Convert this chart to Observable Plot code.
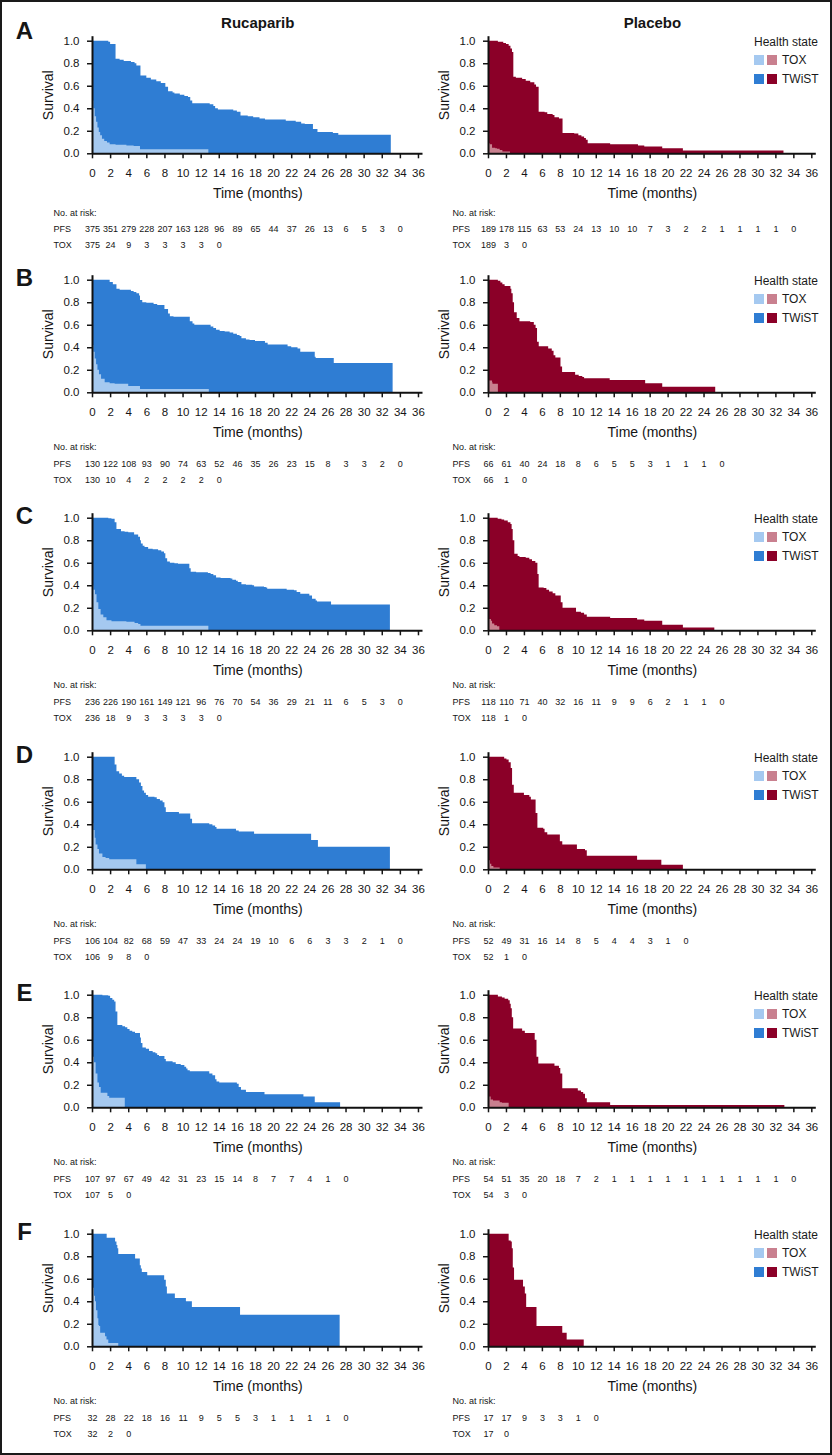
<!DOCTYPE html>
<html><head><meta charset="utf-8">
<script src="https://cdn.jsdelivr.net/npm/d3@7"></script>
<script src="https://cdn.jsdelivr.net/npm/@observablehq/plot@0.6"></script>
<style>
body{margin:0;background:#fff;}
#fig{position:relative;width:832px;height:1455px;overflow:hidden;font-family:"Liberation Sans",Arial,Helvetica,sans-serif;background:#fff;}
#frame{position:absolute;left:0;top:0;width:832px;height:1455px;box-sizing:border-box;border:2px solid #1a1a1a;pointer-events:none;}
.pn{position:absolute;}
.leg{position:absolute;font-size:12px;line-height:14px;color:#1a1a1a;white-space:nowrap;}
.sw{position:absolute;width:10px;height:10px;}
</style></head><body><div id="fig"><div id="frame"></div></div>
<script>
// ---------- Data: step curves [months, survival] ----------
const rucA_pfs = [[0,1],[1.8,0.99],[2.0,0.97],[2.6,0.84],[3.05,0.83],[3.5,0.82],[4.3,0.81],[4.7,0.80],[4.9,0.78],[5.35,0.69],[6.0,0.67],[6.5,0.655],[7.1,0.64],[7.6,0.625],[8.1,0.59],[8.4,0.55],[8.9,0.54],[9.1,0.53],[9.7,0.52],[10.2,0.51],[10.6,0.50],[10.85,0.47],[11.07,0.445],[13.0,0.435],[13.4,0.42],[13.6,0.40],[13.9,0.39],[15.6,0.38],[16.0,0.37],[16.4,0.335],[17.2,0.33],[17.8,0.32],[18.5,0.31],[19.1,0.30],[21.4,0.29],[22.5,0.28],[23.1,0.265],[23.5,0.26],[24.4,0.215],[24.9,0.19],[26.6,0.18],[27.2,0.165],[33.0,0.165]];
const rucA_tox = [[0,0.47],[0.15,0.40],[0.3,0.33],[0.45,0.28],[0.6,0.23],[0.75,0.19],[0.9,0.16],[1.1,0.13],[1.35,0.11],[1.65,0.095],[1.95,0.08],[2.6,0.075],[3.8,0.07],[4.6,0.065],[5.3,0.035],[12.85,0.035]];
const placA_pfs = [[0,1],[1.1,0.99],[1.7,0.98],[2.0,0.97],[2.3,0.955],[2.5,0.93],[2.67,0.90],[2.82,0.68],[3.1,0.67],[3.8,0.66],[4.2,0.645],[4.7,0.63],[5.16,0.61],[5.35,0.59],[5.64,0.37],[6.3,0.365],[6.6,0.35],[7.2,0.34],[7.4,0.32],[7.9,0.31],[8.3,0.18],[9.6,0.175],[10.06,0.16],[10.4,0.15],[10.7,0.135],[10.9,0.12],[11.1,0.09],[13.6,0.08],[16.7,0.07],[17.4,0.06],[19.4,0.045],[21.7,0.025],[32.9,0.025]];
const placA_tox = [[0,0.09],[0.2,0.08],[0.45,0.05],[0.8,0.045],[1.0,0.04],[1.3,0.03],[1.6,0.015],[2.45,0.015]];

const rucB_pfs = [[0,1],[1.95,0.98],[2.3,0.96],[2.7,0.92],[3.05,0.91],[4.3,0.90],[4.6,0.89],[4.9,0.88],[5.2,0.86],[5.3,0.82],[5.55,0.80],[6.0,0.795],[6.8,0.785],[7.2,0.775],[8.0,0.74],[8.4,0.70],[8.6,0.675],[9.0,0.67],[10.8,0.63],[11.1,0.61],[11.3,0.60],[13.1,0.585],[13.4,0.57],[13.7,0.555],[14.1,0.545],[14.65,0.54],[15.2,0.53],[15.6,0.52],[16.0,0.51],[16.3,0.50],[16.5,0.48],[17.0,0.47],[17.4,0.465],[18.0,0.455],[19.1,0.44],[19.4,0.425],[21.6,0.41],[22.0,0.40],[22.7,0.39],[23.0,0.36],[24.6,0.315],[24.7,0.305],[26.7,0.26],[33.2,0.26]];
const rucB_tox = [[0,0.42],[0.15,0.36],[0.3,0.30],[0.45,0.25],[0.6,0.20],[0.77,0.16],[1.0,0.12],[1.4,0.09],[1.95,0.08],[2.5,0.075],[4.0,0.055],[5.3,0.03],[12.9,0.03]];
const placB_pfs = [[0,1],[1.1,0.99],[1.38,0.975],[1.6,0.96],[1.85,0.945],[2.5,0.92],[2.6,0.88],[2.75,0.80],[2.9,0.71],[3.2,0.66],[3.5,0.63],[4.7,0.625],[5.1,0.60],[5.3,0.57],[5.46,0.45],[5.65,0.41],[6.7,0.39],[7.1,0.37],[7.3,0.33],[7.5,0.31],[8.07,0.23],[8.25,0.18],[9.7,0.155],[10.1,0.145],[10.5,0.135],[10.7,0.125],[13.55,0.11],[17.5,0.08],[19.4,0.05],[25.3,0.05]];
const placB_tox = [[0,0.105],[0.45,0.09],[0.5,0.075],[1.1,0.075]];

const rucC_pfs = [[0,1],[1.8,0.995],[2.15,0.99],[2.5,0.96],[2.7,0.90],[3.2,0.88],[3.6,0.875],[4.0,0.87],[4.65,0.85],[5.1,0.83],[5.3,0.80],[5.4,0.77],[5.6,0.75],[5.8,0.74],[6.2,0.725],[6.7,0.72],[7.3,0.71],[7.65,0.70],[7.95,0.685],[8.1,0.64],[8.3,0.61],[8.6,0.60],[9.1,0.595],[9.5,0.59],[10.75,0.55],[10.9,0.52],[11.5,0.515],[12.8,0.51],[13.1,0.50],[13.4,0.49],[13.7,0.47],[14.2,0.465],[15.3,0.46],[15.5,0.45],[15.9,0.44],[16.1,0.43],[16.5,0.41],[17.0,0.405],[17.7,0.40],[17.9,0.39],[19.0,0.385],[19.2,0.38],[19.35,0.37],[21.5,0.36],[22.3,0.355],[22.6,0.34],[23.0,0.325],[24.0,0.31],[24.3,0.28],[24.7,0.265],[24.85,0.255],[26.4,0.23],[32.9,0.23]];
const rucC_tox = [[0,0.40],[0.15,0.36],[0.33,0.32],[0.5,0.25],[0.7,0.19],[0.95,0.14],[1.25,0.115],[1.6,0.09],[2.15,0.08],[3.8,0.075],[4.7,0.065],[5.1,0.055],[5.35,0.04],[12.85,0.04]];
const placC_pfs = [[0,1],[1.08,0.99],[1.5,0.985],[1.8,0.975],[2.2,0.96],[2.5,0.945],[2.63,0.90],[2.75,0.80],[2.93,0.68],[3.3,0.66],[3.5,0.65],[4.2,0.645],[4.6,0.63],[4.9,0.615],[5.27,0.60],[5.5,0.50],[5.64,0.38],[6.2,0.375],[6.5,0.36],[6.8,0.345],[7.2,0.33],[7.5,0.31],[8.1,0.25],[8.3,0.20],[9.8,0.165],[10.35,0.155],[10.7,0.14],[11.0,0.12],[13.6,0.11],[16.6,0.095],[17.4,0.085],[19.4,0.05],[21.7,0.025],[25.2,0.025]];
const placC_tox = [[0,0.10],[0.33,0.085],[0.45,0.06],[0.7,0.045],[1.0,0.035],[1.26,0.035]];

const rucD_pfs = [[0,1],[2.5,0.93],[2.7,0.87],[3.0,0.85],[3.3,0.83],[3.55,0.82],[4.9,0.80],[5.2,0.77],[5.4,0.74],[5.57,0.70],[5.75,0.68],[5.95,0.66],[6.2,0.645],[6.9,0.64],[7.15,0.625],[7.5,0.61],[7.8,0.595],[8.0,0.55],[8.15,0.51],[9.6,0.495],[10.85,0.45],[11.05,0.41],[12.95,0.40],[13.3,0.39],[13.6,0.375],[13.75,0.36],[15.9,0.345],[16.2,0.335],[17.9,0.315],[24.2,0.26],[24.95,0.20],[32.9,0.20]];
const rucD_tox = [[0,0.41],[0.15,0.35],[0.3,0.28],[0.4,0.22],[0.6,0.18],[0.77,0.14],[1.15,0.11],[1.5,0.10],[1.9,0.09],[4.9,0.045],[5.95,0.045]];
const placD_pfs = [[0,1],[1.8,0.985],[2.05,0.975],[2.3,0.95],[2.53,0.90],[2.68,0.75],[2.87,0.68],[4.0,0.66],[4.6,0.645],[4.77,0.62],[5.3,0.50],[5.5,0.37],[6.15,0.36],[6.3,0.33],[6.6,0.31],[8.0,0.25],[8.27,0.22],[9.9,0.18],[10.8,0.17],[11.0,0.12],[16.6,0.085],[19.3,0.04],[21.7,0.04]];
const placD_tox = [[0,0.08],[0.22,0.05],[0.37,0.03],[0.6,0.015],[1.3,0.015]];

const rucE_pfs = [[0,1],[1.15,0.995],[1.8,0.99],[2.0,0.97],[2.25,0.955],[2.45,0.94],[2.6,0.85],[2.8,0.73],[3.35,0.72],[3.65,0.71],[3.9,0.695],[4.15,0.68],[4.45,0.67],[4.75,0.66],[5.3,0.62],[5.4,0.57],[5.57,0.53],[5.95,0.52],[6.3,0.50],[6.7,0.49],[7.0,0.48],[7.2,0.465],[7.4,0.455],[8.0,0.43],[8.15,0.41],[8.9,0.40],[9.25,0.385],[9.8,0.375],[10.2,0.36],[10.4,0.345],[10.55,0.33],[10.8,0.32],[12.95,0.30],[13.3,0.285],[13.6,0.25],[13.75,0.23],[14.05,0.22],[16.0,0.21],[16.2,0.18],[16.45,0.155],[17.0,0.135],[19.05,0.115],[23.35,0.095],[24.6,0.045],[27.4,0.045]];
const rucE_tox = [[0,0.50],[0.1,0.45],[0.22,0.40],[0.4,0.30],[0.6,0.22],[0.77,0.18],[0.96,0.13],[1.7,0.10],[1.9,0.085],[3.62,0.085]];
const placE_pfs = [[0,1],[1.1,0.985],[1.55,0.975],[1.85,0.965],[2.25,0.95],[2.42,0.92],[2.53,0.88],[2.65,0.80],[2.8,0.70],[3.8,0.68],[4.1,0.66],[5.2,0.60],[5.4,0.45],[5.6,0.39],[7.4,0.37],[7.9,0.35],[8.05,0.30],[8.27,0.17],[10.0,0.15],[10.35,0.135],[10.6,0.12],[10.8,0.08],[11.0,0.045],[13.6,0.02],[33.0,0.02]];
const placE_tox = [[0,0.095],[0.3,0.07],[0.56,0.06],[1.3,0.045],[1.55,0.04],[2.3,0.04]];

const rucF_pfs = [[0,1],[1.62,0.965],[2.55,0.93],[2.7,0.90],[2.8,0.87],[2.9,0.82],[4.76,0.78],[5.28,0.72],[5.39,0.69],[5.5,0.66],[6.1,0.63],[7.97,0.59],[8.15,0.53],[8.27,0.47],[9.15,0.43],[10.37,0.40],[11.03,0.35],[16.35,0.28],[27.35,0.28]];
const rucF_tox = [[0,0.60],[0.1,0.52],[0.22,0.45],[0.33,0.40],[0.44,0.32],[0.6,0.25],[0.7,0.19],[0.77,0.18],[0.9,0.12],[1.44,0.09],[1.6,0.06],[1.8,0.03],[2.9,0.03]];
const placF_pfs = [[0,1],[2.3,0.94],[2.53,0.93],[2.65,0.87],[2.76,0.70],[2.9,0.59],[3.9,0.53],[4.1,0.47],[4.25,0.35],[5.4,0.18],[8.27,0.12],[8.76,0.06],[10.66,0.06]];
const placF_tox = [[0,0.06],[0.1,0.06]];

// ---------- Data: numbers at risk (every 2 months from 0) ----------
const riskA_ruc_pfs = [375,351,279,228,207,163,128,96,89,65,44,37,26,13,6,5,3,0];
const riskA_ruc_tox = [375,24,9,3,3,3,3,0];
const riskA_plac_pfs = [189,178,115,63,53,24,13,10,10,7,3,2,2,1,1,1,1,0];
const riskA_plac_tox = [189,3,0];
const riskB_ruc_pfs = [130,122,108,93,90,74,63,52,46,35,26,23,15,8,3,3,2,0];
const riskB_ruc_tox = [130,10,4,2,2,2,2,0];
const riskB_plac_pfs = [66,61,40,24,18,8,6,5,5,3,1,1,1,0];
const riskB_plac_tox = [66,1,0];
const riskC_ruc_pfs = [236,226,190,161,149,121,96,76,70,54,36,29,21,11,6,5,3,0];
const riskC_ruc_tox = [236,18,9,3,3,3,3,0];
const riskC_plac_pfs = [118,110,71,40,32,16,11,9,9,6,2,1,1,0];
const riskC_plac_tox = [118,1,0];
const riskD_ruc_pfs = [106,104,82,68,59,47,33,24,24,19,10,6,6,3,3,2,1,0];
const riskD_ruc_tox = [106,9,8,0];
const riskD_plac_pfs = [52,49,31,16,14,8,5,4,4,3,1,0];
const riskD_plac_tox = [52,1,0];
const riskE_ruc_pfs = [107,97,67,49,42,31,23,15,14,8,7,7,4,1,0];
const riskE_ruc_tox = [107,5,0];
const riskE_plac_pfs = [54,51,35,20,18,7,2,1,1,1,1,1,1,1,1,1,1,0];
const riskE_plac_tox = [54,3,0];
const riskF_ruc_pfs = [32,28,22,18,16,11,9,5,5,3,1,1,1,1,0];
const riskF_ruc_tox = [32,2,0];
const riskF_plac_pfs = [17,17,9,3,3,1,0];
const riskF_plac_tox = [17,0];

// ---------- Labels / ticks ----------
const letters = ["A","B","C","D","E","F"];
const armTitles = ["Rucaparib","Placebo"];
const legendTitle = "Health state";
const legendLabels = ["TOX","TWiST"];
const xTicks = [0,2,4,6,8,10,12,14,16,18,20,22,24,26,28,30,32,34,36];
const yTicks = [0,0.2,0.4,0.6,0.8,1.0];
const rowLabels = ["No. at risk:","PFS","TOX"];

const colRuc = {twist:"#2f7dd3", tox:"#a5c9f0"};
const colPlac = {twist:"#8b0028", tox:"#c9808f"};

const rows = [
  {ruc:[rucA_pfs,rucA_tox,riskA_ruc_pfs,riskA_ruc_tox], plac:[placA_pfs,placA_tox,riskA_plac_pfs,riskA_plac_tox]},
  {ruc:[rucB_pfs,rucB_tox,riskB_ruc_pfs,riskB_ruc_tox], plac:[placB_pfs,placB_tox,riskB_plac_pfs,riskB_plac_tox]},
  {ruc:[rucC_pfs,rucC_tox,riskC_ruc_pfs,riskC_ruc_tox], plac:[placC_pfs,placC_tox,riskC_plac_pfs,riskC_plac_tox]},
  {ruc:[rucD_pfs,rucD_tox,riskD_ruc_pfs,riskD_ruc_tox], plac:[placD_pfs,placD_tox,riskD_plac_pfs,riskD_plac_tox]},
  {ruc:[rucE_pfs,rucE_tox,riskE_ruc_pfs,riskE_ruc_tox], plac:[placE_pfs,placE_tox,riskE_plac_pfs,riskE_plac_tox]},
  {ruc:[rucF_pfs,rucF_tox,riskF_ruc_pfs,riskF_ruc_tox], plac:[placF_pfs,placF_tox,riskF_plac_pfs,riskF_plac_tox]},
];

const FONT = '"Liberation Sans", Arial, Helvetica, sans-serif';
const ROW_H = 238.5;
const fig = document.getElementById("fig");

function panel(r, side, data, col) {
  const [pfs, tox, rp, rt] = data;
  const left = side === 0;
  const ml = left ? 92 : 72, w = left ? 426 : 416, mr = left ? 3.5 : 16.2;
  const shift = r === 0 ? 4.5 : 0;
  const pts = a => a.map(([t, s]) => ({t, s}));
  const risk = a => a.map((n, i) => ({t: 2 * i, n}));
  const lx = left ? -39 : -36;
  const marks = [
    Plot.areaY(pts(pfs), {x: "t", y: "s", curve: "step-after", fill: col.twist}),
    Plot.areaY(pts(tox), {x: "t", y: "s", curve: "step-after", fill: col.tox}),
    Plot.axisX({ticks: xTicks, tickSize: 5, tickPadding: 10, strokeWidth: 1.5, label: null}),
    Plot.axisY({ticks: yTicks, tickSize: 5, tickPadding: 8, strokeWidth: 1.5, tickFormat: d3.format(".1f"), label: null}),
    Plot.ruleY([0], {stroke: "#111", strokeWidth: 2}),
    Plot.ruleX([0], {stroke: "#111", strokeWidth: 2}),
    Plot.text(["Time (months)"], {frameAnchor: "bottom", dy: 39.7, fontSize: 14, textAnchor: "middle", lineAnchor: "middle"}),
    Plot.text(["Survival"], {frameAnchor: "left", dx: -43.5, rotate: -90, fontSize: 14, textAnchor: "middle", lineAnchor: "middle"}),
    Plot.text([rowLabels[0]], {frameAnchor: "bottom-left", dx: lx, dy: 54.5 + shift, fontSize: 9, textAnchor: "start", lineAnchor: "middle"}),
    Plot.text([rowLabels[1]], {frameAnchor: "bottom-left", dx: lx, dy: 71 + shift, fontSize: 9, textAnchor: "start", lineAnchor: "middle"}),
    Plot.text([rowLabels[2]], {frameAnchor: "bottom-left", dx: lx, dy: 87 + shift, fontSize: 9, textAnchor: "start", lineAnchor: "middle"}),
    Plot.text(risk(rp), {x: "t", text: "n", frameAnchor: "bottom", dy: 71 + shift, fontSize: 9, textAnchor: "middle", lineAnchor: "middle"}),
    Plot.text(risk(rt), {x: "t", text: "n", frameAnchor: "bottom", dy: 87 + shift, fontSize: 9, textAnchor: "middle", lineAnchor: "middle"}),
  ];
  if (r === 0) marks.push(Plot.text([armTitles[side]], {frameAnchor: "top", dy: -14, fontSize: 15, fontWeight: "bold", textAnchor: "middle", lineAnchor: "middle"}));
  if (left) marks.push(Plot.text([letters[r]], {frameAnchor: "top-left", dx: -68, dy: r === 0 ? -5.7 : 2.5, fontSize: 24, fontWeight: "bold", textAnchor: "middle", lineAnchor: "middle"}));
  const svg = Plot.plot({
    width: w, height: 238,
    marginLeft: ml, marginRight: mr, marginTop: 36.2, marginBottom: 84.7,
    x: {domain: [0, 36.5]},
    y: {domain: [0, 1.04]},
    style: {fontFamily: FONT, fontSize: "11.5px", color: "#151515", background: "transparent", overflow: "visible"},
    marks
  });
  svg.classList.add("pn");
  svg.style.left = (left ? 0 : 416) + "px";
  svg.style.top = (ROW_H * r) + "px";
  fig.appendChild(svg);
}

function legend(r) {
  const line = ROW_H * r + 40.7;
  const x0 = 754;
  const t = document.createElement("div");
  t.className = "leg"; t.textContent = legendTitle;
  t.style.left = x0 + "px"; t.style.top = (line + 1.3 - 6.9) + "px";
  fig.appendChild(t);
  const sw = [[colRuc.tox, colPlac.tox], [colRuc.twist, colPlac.twist]];
  legendLabels.forEach((lab, i) => {
    const cy = line + 19.6 + 19 * i;
    sw[i].forEach((c, j) => {
      const s = document.createElement("div");
      s.className = "sw"; s.style.background = c;
      s.style.left = (x0 + 12.5 * j) + "px"; s.style.top = (cy - 5) + "px";
      fig.appendChild(s);
    });
    const l = document.createElement("div");
    l.className = "leg"; l.textContent = lab;
    l.style.left = (x0 + 28) + "px"; l.style.top = (cy - 6.9) + "px";
    fig.appendChild(l);
  });
}

rows.forEach((row, r) => {
  panel(r, 0, row.ruc, colRuc);
  panel(r, 1, row.plac, colPlac);
  legend(r);
});
fig.appendChild(document.getElementById("frame"));
</script></body></html>
